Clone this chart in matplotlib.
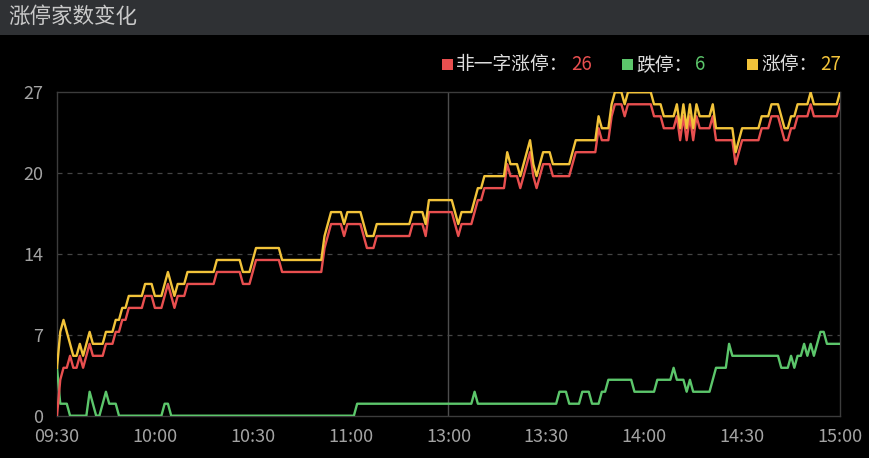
import matplotlib
matplotlib.use("Agg")
import matplotlib.pyplot as plt
from matplotlib.patches import Rectangle

plt.rcParams['font.family'] = ['Noto Sans CJK SC', 'DejaVu Sans']

# %% data: one value per trading minute, 09:30-11:30 then 13:00-15:00 (241 points)
tick_pos = [0, 30, 60, 90, 120, 150, 180, 210, 240]
tick_labels = ['09:30', '10:00', '10:30', '11:00', '13:00', '13:30', '14:00', '14:30', '15:00']

limit_up = [  # 涨停
    4, 7, 8, 7, 6, 5, 5, 6, 5, 6,
    7, 6, 6, 6, 6, 7, 7, 7, 8, 8,
    9, 9, 10, 10, 10, 10, 10, 11, 11, 11,
    10, 10, 10, 11, 12, 11, 10, 11, 11, 11,
    12, 12, 12, 12, 12, 12, 12, 12, 12, 13,
    13, 13, 13, 13, 13, 13, 13, 12, 12, 12,
    13, 14, 14, 14, 14, 14, 14, 14, 14, 13,
    13, 13, 13, 13, 13, 13, 13, 13, 13, 13,
    13, 13, 15, 16, 17, 17, 17, 17, 16, 17,
    17, 17, 17, 17, 16, 15, 15, 15, 16, 16,
    16, 16, 16, 16, 16, 16, 16, 16, 16, 17,
    17, 17, 17, 16, 18, 18, 18, 18, 18, 18,
    18, 18, 17, 16, 17, 17, 17, 17, 18, 19,
    19, 20, 20, 20, 20, 20, 20, 20, 22, 21,
    21, 21, 20, 21, 22, 23, 21, 20, 21, 22,
    22, 22, 21, 21, 21, 21, 21, 21, 22, 23,
    23, 23, 23, 23, 23, 23, 25, 24, 24, 24,
    26, 27, 27, 27, 26, 27, 27, 27, 27, 27,
    27, 27, 27, 26, 26, 26, 25, 25, 25, 25,
    26, 24, 26, 24, 26, 24, 26, 25, 25, 25,
    25, 26, 24, 24, 24, 24, 24, 24, 22, 23,
    24, 24, 24, 24, 24, 24, 25, 25, 25, 26,
    26, 26, 25, 24, 24, 25, 25, 26, 26, 26,
    26, 27, 26, 26, 26, 26, 26, 26, 26, 26,
    27,
]

non_oneword = [  # 非一字涨停
    0, 3, 4, 4, 5, 4, 4, 5, 4, 5,
    6, 5, 5, 5, 5, 6, 6, 6, 7, 7,
    8, 8, 9, 9, 9, 9, 9, 10, 10, 10,
    9, 9, 9, 10, 11, 10, 9, 10, 10, 10,
    11, 11, 11, 11, 11, 11, 11, 11, 11, 12,
    12, 12, 12, 12, 12, 12, 12, 11, 11, 11,
    12, 13, 13, 13, 13, 13, 13, 13, 13, 12,
    12, 12, 12, 12, 12, 12, 12, 12, 12, 12,
    12, 12, 14, 15, 16, 16, 16, 16, 15, 16,
    16, 16, 16, 16, 15, 14, 14, 14, 15, 15,
    15, 15, 15, 15, 15, 15, 15, 15, 15, 16,
    16, 16, 16, 15, 17, 17, 17, 17, 17, 17,
    17, 17, 16, 15, 16, 16, 16, 16, 17, 18,
    18, 19, 19, 19, 19, 19, 19, 19, 21, 20,
    20, 20, 19, 20, 21, 22, 20, 19, 20, 21,
    21, 21, 20, 20, 20, 20, 20, 20, 21, 22,
    22, 22, 22, 22, 22, 22, 24, 23, 23, 23,
    25, 26, 26, 26, 25, 26, 26, 26, 26, 26,
    26, 26, 26, 25, 25, 25, 24, 24, 24, 24,
    25, 23, 25, 23, 25, 23, 25, 24, 24, 24,
    24, 25, 23, 23, 23, 23, 23, 23, 21, 22,
    23, 23, 23, 23, 23, 23, 24, 24, 24, 25,
    25, 25, 24, 23, 23, 24, 24, 25, 25, 25,
    25, 26, 25, 25, 25, 25, 25, 25, 25, 25,
    26,
]

limit_down = [  # 跌停
    4, 1, 1, 1, 0, 0, 0, 0, 0, 0,
    2, 1, 0, 0, 1, 2, 1, 1, 1, 0,
    0, 0, 0, 0, 0, 0, 0, 0, 0, 0,
    0, 0, 0, 1, 1, 0, 0, 0, 0, 0,
    0, 0, 0, 0, 0, 0, 0, 0, 0, 0,
    0, 0, 0, 0, 0, 0, 0, 0, 0, 0,
    0, 0, 0, 0, 0, 0, 0, 0, 0, 0,
    0, 0, 0, 0, 0, 0, 0, 0, 0, 0,
    0, 0, 0, 0, 0, 0, 0, 0, 0, 0,
    0, 0, 1, 1, 1, 1, 1, 1, 1, 1,
    1, 1, 1, 1, 1, 1, 1, 1, 1, 1,
    1, 1, 1, 1, 1, 1, 1, 1, 1, 1,
    1, 1, 1, 1, 1, 1, 1, 1, 2, 1,
    1, 1, 1, 1, 1, 1, 1, 1, 1, 1,
    1, 1, 1, 1, 1, 1, 1, 1, 1, 1,
    1, 1, 1, 1, 2, 2, 2, 1, 1, 1,
    1, 2, 2, 2, 1, 1, 1, 2, 2, 3,
    3, 3, 3, 3, 3, 3, 3, 2, 2, 2,
    2, 2, 2, 2, 3, 3, 3, 3, 3, 4,
    3, 3, 3, 2, 3, 2, 2, 2, 2, 2,
    2, 3, 4, 4, 4, 4, 6, 5, 5, 5,
    5, 5, 5, 5, 5, 5, 5, 5, 5, 5,
    5, 5, 4, 4, 4, 5, 4, 5, 5, 6,
    5, 6, 5, 6, 7, 7, 6, 6, 6, 6,
    6,
]

y_max = 27
y_ticks = [0, 6.75, 13.5, 20.25, 27]
y_tick_labels = ['0', '7', '14', '20', '27']

RED = '#e84f4f'
GREEN = '#5cc66b'
YELLOW = '#f2c33a'

# %% figure
fig = plt.figure(figsize=(8.7, 4.58), dpi=100, facecolor='black')

# title bar
fig.patches.append(Rectangle((0, 1 - 34.5 / 458), 1, 34.5 / 458, transform=fig.transFigure,
                             facecolor='#2f3134', edgecolor='none', zorder=0))
fig.text(8 / 870, 1 - 17 / 458, '涨停家数变化', color='#c9c9c9', fontsize=15.5,
         va='center', ha='left')

ax = fig.add_axes([57 / 870, 1 - 415.7 / 458, 783 / 870, 323.4 / 458])
ax.set_facecolor('black')

minutes = list(range(len(limit_up)))
ax.plot(minutes, limit_down, color=GREEN, lw=1.7, zorder=3)
ax.plot(minutes, non_oneword, color=RED, lw=1.7, zorder=4)
ax.plot(minutes, limit_up, color=YELLOW, lw=1.7, zorder=5)

ax.set_xlim(0, 240)
ax.set_ylim(0, y_max)
ax.set_xticks(tick_pos)
ax.set_xticklabels(tick_labels)
ax.set_yticks(y_ticks)
ax.set_yticklabels(y_tick_labels)
ax.tick_params(length=0, colors='#a3a3a3', labelsize=13)
ax.tick_params(axis='x', pad=9)
ax.tick_params(axis='y', pad=10)

for v in y_ticks[1:-1]:
    ax.axhline(v, color='#444444', lw=0.9, ls=(0, (4, 4)), zorder=1)
ax.axvline(120, color='#4d4d4d', lw=1.0, zorder=1)
for s in ax.spines.values():
    s.set_color('#3c3c3c')
    s.set_linewidth(1.0)

# legend drawn by hand so the counts can take the series colour
legend_items = [
    ('非一字涨停：', non_oneword[-1], RED, 442),
    ('跌停：', limit_down[-1], GREEN, 622),
    ('涨停：', limit_up[-1], YELLOW, 747),
]
for label, last, col, x0 in legend_items:
    fig.patches.append(Rectangle((x0 / 870, 1 - 70 / 458), 11 / 870, 11 / 458,
                                 transform=fig.transFigure, facecolor=col, edgecolor='none'))
    t = fig.text((x0 + 14) / 870, 1 - 64.5 / 458, label, color='#dcdcdc', fontsize=13.5,
                 va='center', ha='left')
    fig.canvas.draw()
    bb = t.get_window_extent()
    fig.text((bb.x1 + 3) / 870, 1 - 64.5 / 458, str(last), color=col, fontsize=13.5,
             va='center', ha='left')

fig.savefig('out.png', dpi=100, facecolor='black')
